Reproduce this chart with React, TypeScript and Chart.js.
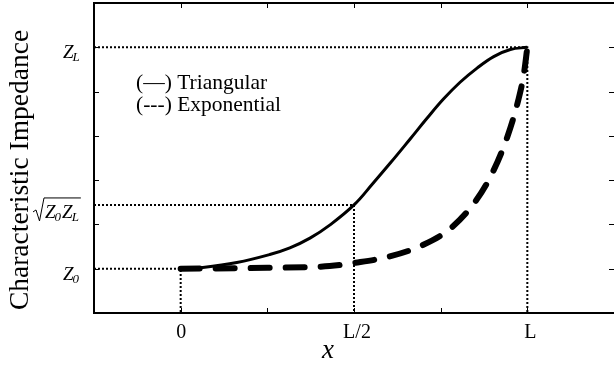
import React, { useEffect, useRef } from "react";
import { Chart, registerables } from "chart.js";

Chart.register(...registerables);

// Position along the line, in units of L
const triX = [0, 0.064, 0.162, 0.257, 0.315, 0.373, 0.431, 0.5, 0.555, 0.604, 0.662, 0.71, 0.758, 0.806, 0.855, 0.903, 0.951, 1.0];
const triZ = [1.0, 1.03, 1.14, 1.32, 1.47, 1.69, 1.99, 2.44, 2.93, 3.38, 3.93, 4.39, 4.83, 5.21, 5.53, 5.79, 5.95, 6.0];

const expX = [0, 0.25, 0.43, 0.5, 0.6, 0.7, 0.78, 0.853, 0.899, 0.942, 0.974, 0.99, 1.0];
const expZ = [1.0, 1.02, 1.06, 1.13, 1.27, 1.54, 1.92, 2.55, 3.16, 3.97, 4.81, 5.4, 6.0];

// Impedance levels marked on the vertical axis
const Z0 = 1;
const ZMID = 2.44;
const ZL = 6;

const xTickValues = [0, 0.25, 0.5, 0.75, 1];
const xLabelValues = [0, 0.5, 1];
const xLabelText = ["0", "L/2", "L"];
const yTickValues = [1, 2, 3, 4, 5, 6];

const X_MIN = -0.25;
const X_MAX = 1.25;
const Y_MIN = 0;
const Y_MAX = 7;

const SERIF = "'Liberation Serif', 'DejaVu Serif', serif";

const zip = (xs: number[], ys: number[]) => xs.map((x, i) => ({ x, y: ys[i] }));

function drawSubLabel(ctx: CanvasRenderingContext2D, main: string, sub: string, left: number, top: number) {
  ctx.font = `italic 19px ${SERIF}`;
  ctx.textBaseline = "alphabetic";
  ctx.textAlign = "left";
  const w = ctx.measureText(main).width;
  ctx.fillText(main, left, top + 12);
  ctx.font = `italic 13px ${SERIF}`;
  ctx.fillText(sub, left + w - 1, top + 15);
  return left + w - 1 + ctx.measureText(sub).width;
}

const overlay = {
  id: "overlay",
  afterDraw(chart: any) {
    const { ctx, chartArea: a, scales } = chart;
    const x = scales.x;
    const y = scales.y;
    ctx.save();
    ctx.fillStyle = "#000";
    ctx.strokeStyle = "#000";

    // top frame line
    ctx.lineWidth = 2;
    ctx.beginPath();
    ctx.moveTo(a.left - 1, a.top);
    ctx.lineTo(a.right, a.top);
    ctx.stroke();

    // inward tick marks
    ctx.lineWidth = 1;
    ctx.beginPath();
    for (const v of xTickValues) {
      const px = Math.round(x.getPixelForValue(v)) + 0.5;
      ctx.moveTo(px, a.bottom);
      ctx.lineTo(px, a.bottom - 5);
      ctx.moveTo(px, a.top);
      ctx.lineTo(px, a.top + 5);
    }
    for (const v of yTickValues) {
      const py = Math.round(y.getPixelForValue(v)) + 0.5;
      ctx.moveTo(a.left, py);
      ctx.lineTo(a.left + 5, py);
      ctx.moveTo(a.right, py);
      ctx.lineTo(a.right - 5, py);
    }
    ctx.stroke();

    // x tick labels
    ctx.font = `20px ${SERIF}`;
    ctx.textAlign = "center";
    ctx.textBaseline = "alphabetic";
    xLabelValues.forEach((v, i) => {
      const shift = i === 0 ? 0.5 : 3;
      ctx.fillText(xLabelText[i], x.getPixelForValue(v) + shift, a.bottom + 25);
    });

    // impedance level labels
    const pZL = y.getPixelForValue(ZL);
    const pZ0 = y.getPixelForValue(Z0);
    const pMid = y.getPixelForValue(ZMID);
    drawSubLabel(ctx, "Z", "L", 63, pZL - 1);
    drawSubLabel(ctx, "Z", "0", 63, pZ0 - 1);

    // square-root label
    const left = 45;
    const t = pMid + 1;
    const end1 = drawSubLabel(ctx, "Z", "0", left, t);
    const end2 = drawSubLabel(ctx, "Z", "L", end1 + 1, t);
    ctx.lineWidth = 1;
    ctx.beginPath();
    ctx.moveTo(33, t + 6);
    ctx.lineTo(36, t + 4);
    ctx.lineTo(39.5, t + 15);
    ctx.lineTo(44, t - 8);
    ctx.lineTo(end2 + 2, t - 8);
    ctx.stroke();

    // axis titles
    ctx.font = `italic 27px ${SERIF}`;
    ctx.textAlign = "center";
    ctx.fillText("x", 328, 358);

    ctx.save();
    ctx.translate(28, 170);
    ctx.rotate(-Math.PI / 2);
    ctx.font = `27.5px ${SERIF}`;
    ctx.fillText("Characteristic Impedance", 0, 0);
    ctx.restore();

    // legend
    ctx.font = `21.5px ${SERIF}`;
    ctx.textAlign = "left";
    ctx.fillText("(\u2014) Triangular", 136, 89);
    ctx.fillText("(---) Exponential", 136, 111);

    ctx.restore();
  },
};

const dotted = {
  borderColor: "#000",
  borderWidth: 2,
  borderDash: [2, 2],
  pointRadius: 0,
  tension: 0,
  fill: false,
};

export default function App() {
  const ref = useRef<HTMLCanvasElement | null>(null);

  useEffect(() => {
    document.body.style.margin = "0";
    if (!ref.current) return;
    const chart = new Chart(ref.current, {
      type: "line",
      data: {
        datasets: [
          {
            label: "Triangular",
            data: zip(triX, triZ),
            borderColor: "#000",
            borderWidth: 3,
            pointRadius: 0,
            tension: 0.4,
            fill: false,
          },
          {
            label: "Exponential",
            data: zip(expX, expZ),
            borderColor: "#000",
            borderWidth: 6,
            borderDash: [19, 16],
            borderCapStyle: "round",
            pointRadius: 0,
            cubicInterpolationMode: "monotone",
            fill: false,
          },
          { label: "Z0", data: [{ x: X_MIN, y: Z0 }, { x: 0, y: Z0 }, { x: 0, y: Y_MIN }], ...dotted },
          { label: "Zmid", data: [{ x: X_MIN, y: ZMID }, { x: 0.5, y: ZMID }, { x: 0.5, y: Y_MIN }], ...dotted },
          { label: "ZL", data: [{ x: X_MIN, y: ZL }, { x: 1, y: ZL }, { x: 1, y: Y_MIN }], ...dotted },
        ] as any,
      },
      options: {
        animation: false,
        responsive: false,
        layout: { padding: { left: 94, top: 3, right: 0, bottom: 54 } },
        plugins: {
          legend: { display: false },
          tooltip: { enabled: false },
        },
        scales: {
          x: {
            type: "linear",
            min: X_MIN,
            max: X_MAX,
            afterFit: (s: any) => {
              s.height = 0;
            },
            grid: { display: false, drawTicks: false },
            border: { display: true, color: "#000", width: 2 },
            ticks: { display: false },
          },
          y: {
            type: "linear",
            min: Y_MIN,
            max: Y_MAX,
            afterFit: (s: any) => {
              s.width = 0;
            },
            grid: { display: false, drawTicks: false },
            border: { display: true, color: "#000", width: 2 },
            ticks: { display: false },
          },
        },
      },
      plugins: [overlay],
    });
    return () => chart.destroy();
  }, []);

  return <canvas ref={ref} width={614} height={367} style={{ display: "block" }} />;
}
